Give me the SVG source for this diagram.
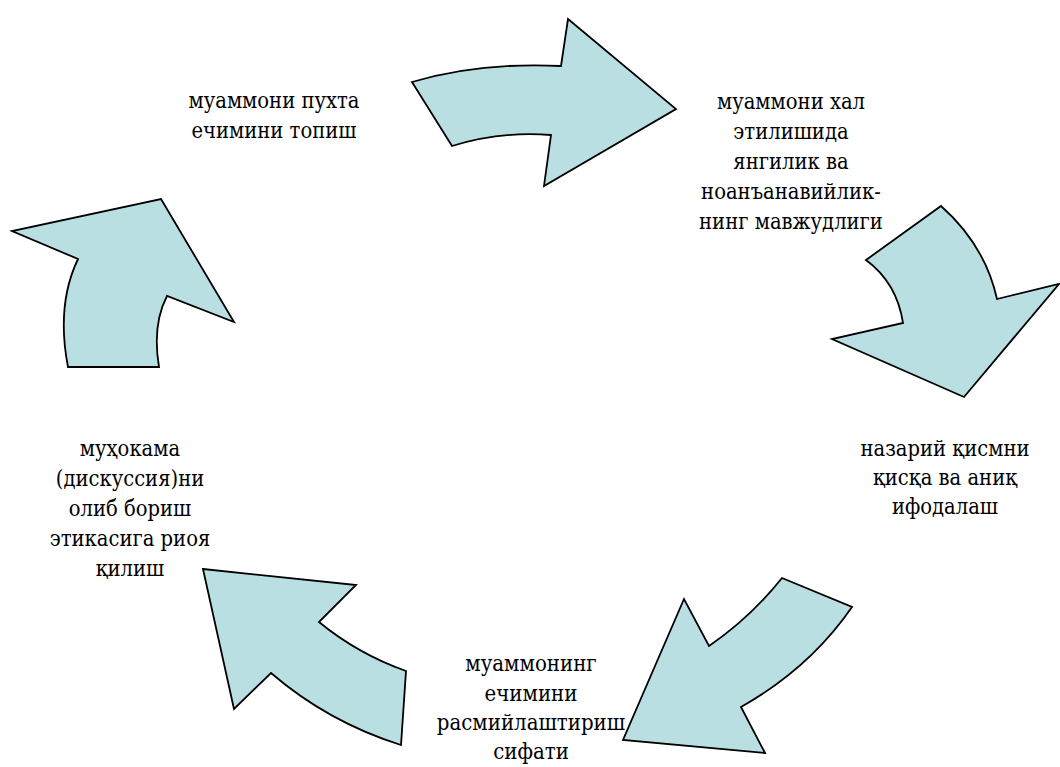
<svg xmlns="http://www.w3.org/2000/svg" width="1060" height="767" viewBox="0 0 1060 767">
<style>
.arrow{fill:#BADFE3;stroke:#000;stroke-width:1.8;stroke-linejoin:miter}
.lbl{font-family:'DejaVu Serif',serif;font-size:22px;fill:#000;text-anchor:middle}
</style>
<rect width="1060" height="767" fill="#fff"/>
<g id="connectors">
<path class="arrow" d="M412,82 Q480,62 561,66 L568,19 L676,109 L544,186 L551,135 Q500,131 452,146 Z"/>
<path class="arrow" d="M941,206 Q985,245 997,299 L1059,284 L964,397 L832,339 L903,323 Q897,283 866,260 Z"/>
<path class="arrow" d="M782,578 L852,607 Q810,668 741,707 L765,753 L623,740 L684,599 L709,646 Q750,618 782,578 Z"/>
<path class="arrow" d="M203,569 L356,585 L319,622 Q358,654 406,671 L401,745 Q328,722 271,673 L234,709 Z"/>
<path class="arrow" d="M161,199 L234,322 L167,296 Q152,325 159,367 L68,367 Q56,305 78,259 L12,231 Z"/>
</g>
<g id="node-top-left" transform="translate(274,0) scale(0.89,1)">
<text class="lbl" x="0" y="108">муаммони пухта</text>
<text class="lbl" x="0" y="138">ечимини топиш</text>
</g>
<g id="node-top-right" transform="translate(791,0) scale(0.89,1)">
<text class="lbl" x="0" y="109">муаммони хал</text>
<text class="lbl" x="0" y="139">этилишида</text>
<text class="lbl" x="0" y="169">янгилик ва</text>
<text class="lbl" x="0" y="199">ноанъанавийлик-</text>
<text class="lbl" x="0" y="229">нинг мавжудлиги</text>
</g>
<g id="node-right" transform="translate(945,0) scale(0.89,1)">
<text class="lbl" x="0" y="456">назарий қисмни</text>
<text class="lbl" x="0" y="485">қисқа ва аниқ</text>
<text class="lbl" x="0" y="514">ифодалаш</text>
</g>
<g id="node-bottom" transform="translate(531,0) scale(0.9,1)">
<text class="lbl" x="0" y="671">муаммонинг</text>
<text class="lbl" x="0" y="701">ечимини</text>
<text class="lbl" x="0" y="730">расмийлаштириш</text>
<text class="lbl" x="0" y="759">сифати</text>
</g>
<g id="node-left" transform="translate(130,0) scale(0.89,1)">
<text class="lbl" x="0" y="456">муҳокама</text>
<text class="lbl" x="0" y="486">(дискуссия)ни</text>
<text class="lbl" x="0" y="516">олиб бориш</text>
<text class="lbl" x="0" y="546">этикасига риоя</text>
<text class="lbl" x="0" y="576">қилиш</text>
</g>
</svg>
